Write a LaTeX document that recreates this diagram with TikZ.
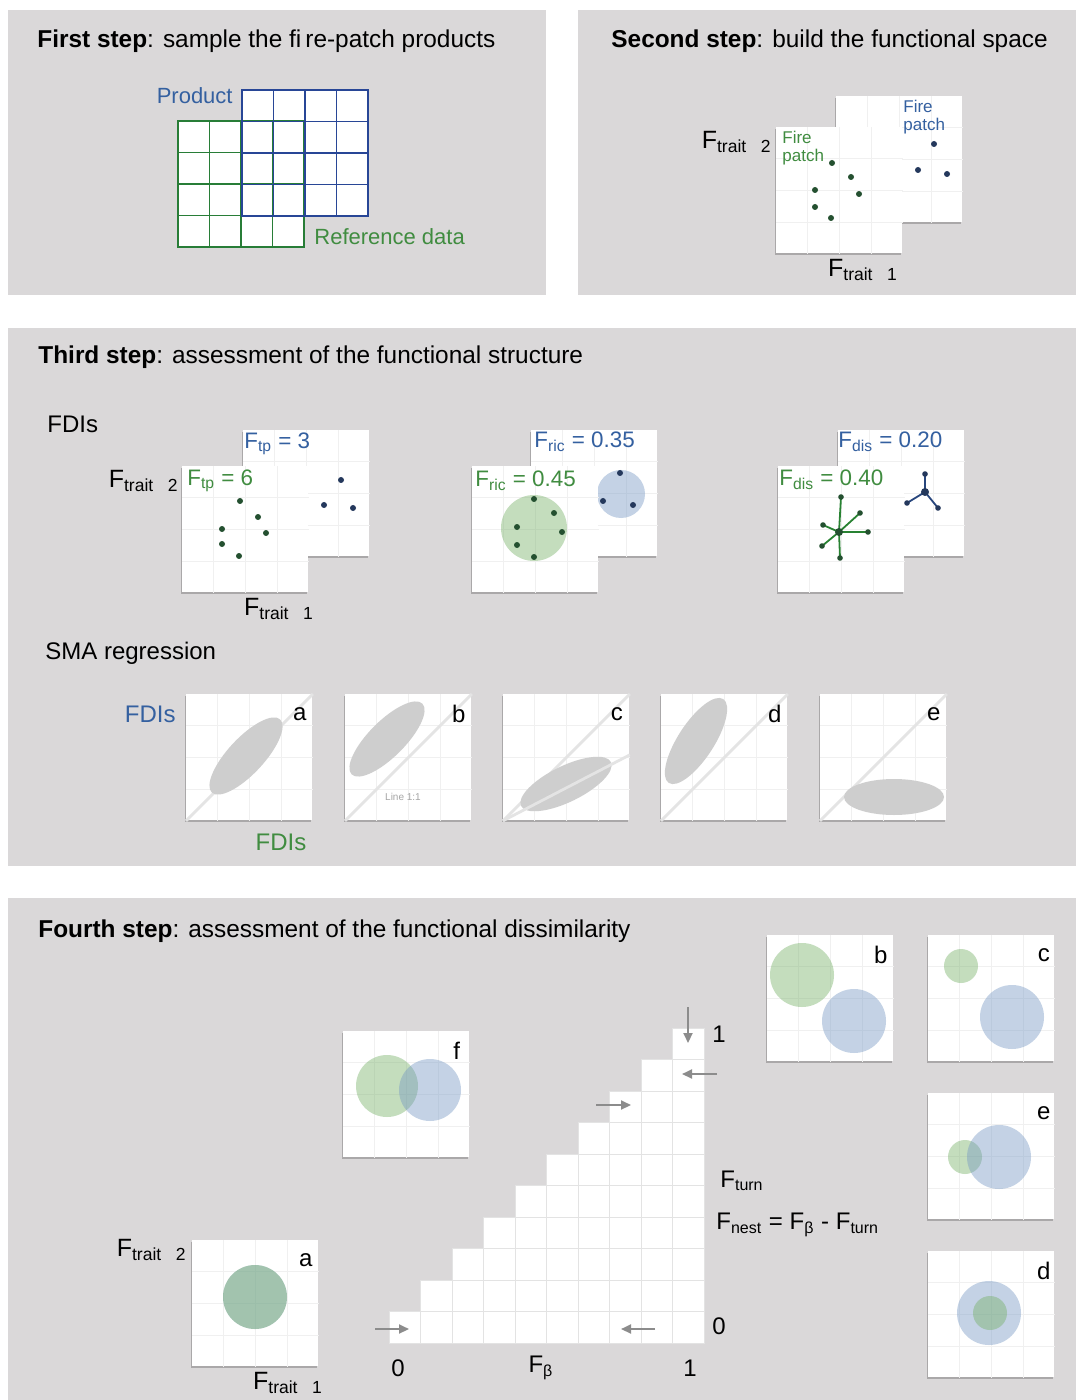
\documentclass[tikz,border=0pt]{standalone}
\usepackage{fontspec}
\setmainfont{Liberation Sans}
\usetikzlibrary{calc,shadows,arrows.meta}
\definecolor{panelGray}{RGB}{218,216,217}
\definecolor{txtGreen}{RGB}{64,140,64}
\definecolor{txtBlue}{RGB}{52,96,160}
\definecolor{dotGreen}{RGB}{36,80,48}
\definecolor{dotBlue}{RGB}{36,56,92}
\definecolor{lineGreen}{RGB}{40,130,50}
\definecolor{lineBlue}{RGB}{40,70,125}
\definecolor{gridGreen}{RGB}{40,125,55}
\definecolor{gridBlue}{RGB}{40,70,150}
\definecolor{hullGreen}{RGB}{115,175,100}
\definecolor{hullBlue}{RGB}{115,150,195}
\definecolor{ellGray}{RGB}{206,206,206}
\definecolor{oneGray}{RGB}{228,228,228}
\definecolor{arrGray}{RGB}{140,140,140}

\newcommand{\Ftr}[1]{F\textsubscript{trait\ \ \ #1}}
\newcommand{\boxgrid}[1]{%
  \foreach \fr in {0.25,0.5,0.75}{%
    \draw[faintgrid] ($(#1.south west)!\fr!(#1.south east)$) -- ($(#1.north west)!\fr!(#1.north east)$);
    \draw[faintgrid] ($(#1.south west)!\fr!(#1.north west)$) -- ($(#1.south east)!\fr!(#1.north east)$);
  }}

\tikzset{
  panel/.style={fill=panelGray, draw=none},
  plotbox/.style={fill=white, draw=none, inner sep=0pt, minimum width=63pt, minimum height=63pt,
    anchor=north west, drop shadow={shadow xshift=-0.8pt, shadow yshift=-0.8pt, opacity=0.22, fill=black}},
  faintgrid/.style={draw=black!6, line width=0.5pt},
  title/.style={anchor=west, inner sep=0pt, font=\fontsize{12.2}{14}\selectfont},
  lbl/.style={inner sep=0pt, font=\fontsize{12}{14}\selectfont},
  gridlbl/.style={inner sep=0pt, font=\fontsize{11}{13}\selectfont},
  trlab/.style={inner sep=0pt, font=\fontsize{12.5}{14}\selectfont},
  idx/.style={inner sep=0pt, font=\fontsize{11.2}{13}\selectfont},
  patchlab/.style={anchor=north west, align=left, inner sep=0pt, font=\fontsize{8.5}{9}\selectfont},
  boxlab/.style={inner sep=0pt, font=\fontsize{12}{14}\selectfont},
  refgrid/.style={draw=gridGreen, line width=0.6pt},
  prodgrid/.style={draw=gridBlue, line width=0.6pt},
  oneline/.style={draw=oneGray, line width=1.4pt},
  gdot/.style={fill=dotGreen},
  bdot/.style={fill=dotBlue},
  ghull/.style={fill=hullGreen, fill opacity=0.42},
  bhull/.style={fill=hullBlue, fill opacity=0.42},
  gspoke/.style={draw=lineGreen, line width=0.9pt},
  bspoke/.style={draw=lineBlue, line width=0.9pt},
  flowarr/.style={draw=arrGray, line width=1pt, -{Triangle[length=5pt,width=4.5pt]}}
}

\begin{document}
\begin{tikzpicture}[x=0.5pt, y=-0.5pt]
\useasboundingbox (0,0) rectangle (1076,1400);
\fill[white] (0,0) rectangle (1076,1400);
% panels
\fill[panel] (8,10) rectangle (546,295);
\fill[panel] (578,10) rectangle (1076,295);
\fill[panel] (8,328) rectangle (1076,866);
\fill[panel] (8,898) rectangle (1076,1400);

% first step
\node[title] (t1) at (37,41) {\textbf{First step}: sample the fi\,re-patch products};
\foreach \i in {0,...,3}
  \foreach \j in {0,...,3}{
    \fill[white] (178+31.5*\i,121+31.5*\j) rectangle ++(31.5,31.5);
    \fill[white] (242+31.5*\i,90+31.5*\j) rectangle ++(31.5,31.5);
  }
\foreach \i in {0,...,3}
  \foreach \j in {0,...,3}
    \draw[refgrid] (178+31.5*\i,121+31.5*\j) rectangle ++(31.5,31.5);
\foreach \i in {0,...,3}
  \foreach \j in {0,...,3}
    \draw[prodgrid] (242+31.5*\i,90+31.5*\j) rectangle ++(31.5,31.5);
\node[gridlbl, text=txtBlue, anchor=east] (prodlab) at (233,96) {Product};
\node[gridlbl, text=txtGreen, anchor=west] (reflab) at (314,237) {Reference data};

% second step
\node[title] (t2) at (611,41) {\textbf{Second step}: build the functional space};
\node[plotbox] (spB) at (836,96) {};
\boxgrid{spB}
\node[plotbox] (spG) at (776,127) {};
\boxgrid{spG}
\foreach \px/\py in {832/163, 851/177, 815/190, 859/194, 815/207, 831/218}
  \fill[gdot] (\px,\py) circle[radius=3];
\foreach \px/\py in {934/144, 918/170, 947/174}
  \fill[bdot] (\px,\py) circle[radius=3];
\node[patchlab, text=txtGreen] (fpG) at (782,131) {Fire\\patch};
\node[patchlab, text=txtBlue] (fpB) at (903,100) {Fire\\patch};
\node[trlab, anchor=east] (s2y) at (772,142) {\Ftr{2}};
\node[trlab] (s2x) at (863,270) {\Ftr{1}};

% third step
\node[title] (t3) at (38,357) {\textbf{Third step}: assessment of the functional structure};
\node[lbl, anchor=west] (fdis) at (47,424) {FDIs};

% richness in points
\node[plotbox] (nB) at (243,430) {};
\boxgrid{nB}
\node[plotbox] (nG) at (182,466) {};
\boxgrid{nG}
\foreach \px/\py in {240/501, 258/517, 222/529, 266/533, 222/544, 239/556}
  \fill[gdot] (\px,\py) circle[radius=3];
\foreach \px/\py in {341/480, 324/505, 353/508}
  \fill[bdot] (\px,\py) circle[radius=3];
\node[idx, text=txtBlue, anchor=west] (nBlab) at (244,444) {F\textsubscript{tp} = 3};
\node[idx, text=txtGreen, anchor=west] (nGlab) at (187,481) {F\textsubscript{tp} = 6};
\node[trlab, anchor=east] (s3y) at (179,481) {\Ftr{2}};
\node[trlab] (s3x) at (279,609) {\Ftr{1}};

% richness as hull
\node[plotbox] (rB) at (531,430) {};
\boxgrid{rB}
\fill[bhull] (621,494) circle[radius=24];
\node[plotbox] (rG) at (472,466) {};
\boxgrid{rG}
\fill[ghull] (534,528) circle[radius=33];
\foreach \dx/\dy in {0/-29, 20/-15, -17/-1, 28/4, -17/17, 0/29}
  \fill[gdot] (534+\dx,528+\dy) circle[radius=3];
\foreach \dx/\dy in {-1/-21, -18/7, 12/11}
  \fill[bdot] (621+\dx,494+\dy) circle[radius=3];
\node[idx, text=txtBlue, anchor=west] (rBlab) at (534,442) {F\textsubscript{ric} = 0.35};
\node[idx, text=txtGreen, anchor=west] (rGlab) at (475,481) {F\textsubscript{ric} = 0.45};

% dispersion
\node[plotbox] (dB) at (838,430) {};
\boxgrid{dB}
\node[plotbox] (dG) at (778,466) {};
\boxgrid{dG}
\foreach \dx/\dy in {2/-35, 21/-19, -16/-7, 29/0, -17/14, 1/26}{
  \draw[gspoke] (839,532) -- (839+\dx,532+\dy);
  \fill[gdot] (839+\dx,532+\dy) circle[radius=2.8];
}
\fill[gdot] (839,532) circle[radius=4];
\foreach \dx/\dy in {0/-18, -18/11, 13/16}{
  \draw[bspoke] (925,492) -- (925+\dx,492+\dy);
  \fill[bdot] (925+\dx,492+\dy) circle[radius=2.8];
}
\fill[bdot] (925,492) circle[radius=4];
\node[idx, text=txtBlue, anchor=west] (dBlab) at (838,442) {F\textsubscript{dis} = 0.20};
\node[idx, text=txtGreen, anchor=west] (dGlab) at (779,480) {F\textsubscript{dis} = 0.40};

% SMA regression
\node[lbl, anchor=west] (sma) at (45,653) {SMA regression};
\foreach \bx/\lab/\ex/\ey/\rot in {186/a/60/62/47, 345/b/42/45/45, 503/c/63/90/26, 661/d/35/47/57, 820/e/74/103/0}{
  \node[plotbox] (sma\lab) at (\bx,694) {};
  \boxgrid{sma\lab}
  \draw[oneline] (sma\lab.south west) -- (sma\lab.north east);
  \fill[ellGray] (\bx+\ex,694+\ey) ellipse[x radius=50, y radius=18, rotate=\rot];
  \node[boxlab] (smal\lab) at ($(sma\lab.north east)+(-13,20)$) {\lab};
}
\draw[oneline] (smac.south west) -- ($(smac.south east)!0.52!(smac.north east)$);
\node[inner sep=0pt, font=\fontsize{5}{6}\selectfont, text=black!35] (oneone) at (403,797) {Line 1:1};
\node[lbl, text=txtBlue, anchor=east] (smay) at (176,714) {FDIs};
\node[lbl, text=txtGreen] (smax) at (281,842) {FDIs};

% fourth step
\node[title] (t4) at (38,931) {\textbf{Fourth step}: assessment of the functional dissimilarity};

% staircase of beta values
\foreach \i in {0,...,9}
  \foreach \j in {0,...,\i}
    \draw[fill=white, draw=black!11, line width=0.5pt] (389+31.5*\i,1343-31.5*\j) rectangle ++(31.5,-31.5);
\coordinate (aTopS) at (688,1007);
\coordinate (aTopE) at (688,1043);
\coordinate (aRgtS) at (717,1074);
\coordinate (aRgtE) at (682,1074);
\coordinate (aMidS) at (596,1105);
\coordinate (aMidE) at (631,1105);
\coordinate (aLowS) at (375,1329);
\coordinate (aLowE) at (409,1329);
\coordinate (aBotS) at (655,1329);
\coordinate (aBotE) at (621,1329);
\draw[flowarr] (aTopS) -- (aTopE);
\draw[flowarr] (aRgtS) -- (aRgtE);
\draw[flowarr] (aMidS) -- (aMidE);
\draw[flowarr] (aLowS) -- (aLowE);
\draw[flowarr] (aBotS) -- (aBotE);
\node[lbl] (ytop) at (719,1034) {1};
\node[lbl] (ybot) at (719,1326) {0};
\node[lbl] (xlft) at (398,1368) {0};
\node[lbl] (xmid) at (541,1368) {F\textsubscript{β}};
\node[lbl] (xrgt) at (690,1368) {1};
\node[lbl, anchor=west] (turn) at (720,1181) {F\textsubscript{turn}};
\node[lbl, anchor=west] (nest) at (716,1225) {F\textsubscript{nest} = F\textsubscript{β} - F\textsubscript{turn}};

% overlap cases
\node[plotbox] (ovA) at (192,1240) {};
\boxgrid{ovA}
\fill[bhull] (255,1297) circle[radius=32];
\fill[ghull] (255,1297) circle[radius=32];
\node[boxlab] (ovAl) at ($(ovA.north east)+(-13,20)$) {a};
\node[trlab, anchor=east] (s4y) at (187,1250) {\Ftr{2}};
\node[trlab] (s4x) at (288,1383) {\Ftr{1}};

\node[plotbox] (ovF) at (343,1031) {};
\boxgrid{ovF}
\fill[ghull] (387,1086) circle[radius=31];
\fill[bhull] (430,1090) circle[radius=31];
\node[boxlab] (ovFl) at ($(ovF.north east)+(-13,20)$) {f};

\node[plotbox] (ovB) at (767,935) {};
\boxgrid{ovB}
\fill[ghull] (802,975) circle[radius=32];
\fill[bhull] (854,1021) circle[radius=32];
\node[boxlab] (ovBl) at ($(ovB.north east)+(-13,20)$) {b};

\node[plotbox] (ovC) at (928,935) {};
\boxgrid{ovC}
\fill[ghull] (961,966) circle[radius=17];
\fill[bhull] (1012,1017) circle[radius=32];
\node[boxlab] (ovCl) at ($(ovC.north east)+(-11,20)$) {c};

\node[plotbox] (ovE) at (928,1093) {};
\boxgrid{ovE}
\fill[ghull] (965,1157) circle[radius=17];
\fill[bhull] (999,1157) circle[radius=32];
\node[boxlab] (ovEl) at ($(ovE.north east)+(-11,20)$) {e};

\node[plotbox] (ovD) at (928,1251) {};
\boxgrid{ovD}
\fill[bhull] (989,1313) circle[radius=32];
\fill[ghull] (990,1313) circle[radius=17];
\node[boxlab] (ovDl) at ($(ovD.north east)+(-11,20)$) {d};
\end{tikzpicture}
\end{document}
